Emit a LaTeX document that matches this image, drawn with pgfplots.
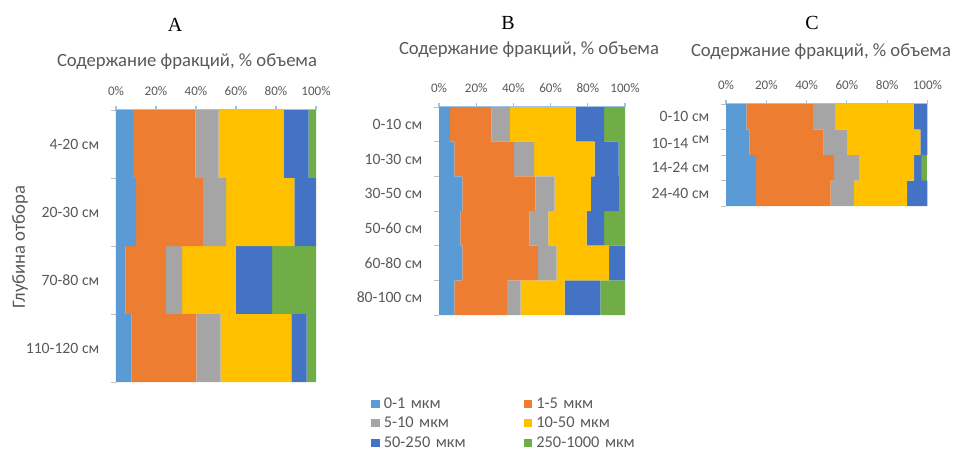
\documentclass[border=0pt]{standalone}
\usepackage{pgfplots}
\pgfplotsset{compat=1.18}
\usepackage{pgfplotstable}
\usepackage{fontspec}
\setmainfont{Carlito}
\newfontfamily\letterfont{Liberation Serif}

\definecolor{f1}{HTML}{5B9BD5}
\definecolor{f2}{HTML}{ED7D31}
\definecolor{f3}{HTML}{A5A5A5}
\definecolor{f4}{HTML}{FFC000}
\definecolor{f5}{HTML}{4472C4}
\definecolor{f6}{HTML}{70AD47}
\definecolor{txt}{HTML}{595959}
\definecolor{axblue}{HTML}{9DC3E6}
\definecolor{tickgray}{HTML}{BFBFBF}

% fraction content, % of volume; y = row position (top row has the largest y)
\pgfplotstableread{
y  c1   c2   c3   c4   c5   c6
3  8.6  31.1 11.6 32.6 12.4 3.7
2  10.0 33.4 11.7 34.1 10.8 0
1  4.7  20.2 8.2  26.7 18.3 21.9
0  7.8  32.4 12.1 35.4 7.6  4.7
}\tabA
\pgfplotstableread{
y  c1   c2   c3   c4   c5   c6
5  5.8  22.4 9.9  35.5 15.2 11.2
4  8.3  32.0 10.8 32.5 13.0 3.4
3  12.6 39.2 10.3 19.6 15.4 2.9
2  11.5 37.1 10.2 20.5 9.5  11.2
1  12.6 40.5 10.2 28.1 8.6  0
0  8.3  28.2 7.4  23.7 19.1 13.3
}\tabB
\pgfplotstableread{
y  c1   c2   c3   c4   c5   c6
3  10.1 33.0 10.9 39.1 6.9  0
2  11.7 36.7 11.6 36.5 3.5  0
1  14.9 38.7 12.7 27.1 3.6  3.0
0  14.9 37.0 11.6 26.4 10.1 0
}\tabC

\pgfplotsset{
  fracbars/.style={
    xbar stacked, bar width=1, scale only axis,
    xmin=0, xmax=100, xtick={0,20,...,100},
    /pgf/number format/assume math mode=true,
    xticklabel={\pgfmathprintnumber{\tick}\%},
    axis x line*=top, axis y line*=left,
    x axis line style={draw=axblue, line width=0.8pt, -},
    y axis line style={draw=none, -},
    tick align=outside, major tick length=3pt,
    xtick style={draw=axblue, line width=0.8pt},
    ytick style={draw=none},
    xticklabel style={font=\fontsize{9.8}{11}\selectfont, text=txt, yshift=4pt},
    yticklabel style={font=\fontsize{11.8}{14}\selectfont, text=txt, xshift=-6pt},
    extra y tick labels={},
    extra y tick style={ytick style={draw=tickgray, line width=0.6pt}, major tick length=3.75pt},
    clip=false,
  },
}

\begin{document}
\begin{tikzpicture}
\path[use as bounding box] (0,0) rectangle (714.75pt,-337.5pt);

% panel A
\begin{axis}[fracbars, at={(87pt,-82.5pt)}, anchor=north west,
  width=150pt, height=204pt, ymin=-0.5, ymax=3.5,
  ytick={0,1,2,3}, yticklabels={110-120 см,70-80 см,20-30 см,4-20 см},
  extra y ticks={-0.5,0.5,1.5,2.5,3.5}]
\addplot[fill=f1, draw=none] table[x=c1, y=y] {\tabA};
\addplot[fill=f2, draw=none] table[x=c2, y=y] {\tabA};
\addplot[fill=f3, draw=none] table[x=c3, y=y] {\tabA};
\addplot[fill=f4, draw=none] table[x=c4, y=y] {\tabA};
\addplot[fill=f5, draw=none] table[x=c5, y=y] {\tabA};
\addplot[fill=f6, draw=none] table[x=c6, y=y] {\tabA};
\end{axis}

% panel B (carries the legend)
\begin{axis}[fracbars, at={(329.25pt,-80.25pt)}, anchor=north west,
  width=139.5pt, height=156pt, ymin=-0.5, ymax=5.5,
  ytick={0,...,5}, yticklabels={80-100 см,60-80 см,50-60 см,30-50 см,10-30 см,0-10 см},
  extra y ticks={-0.5,0.5,...,5.5},
  legend columns=2,
  legend image code/.code={\fill[#1] (0pt,-3.1pt) rectangle (6.4pt,3.1pt);},
  legend style={at={(-0.3656,-0.39)}, anchor=north west, draw=none, fill=none,
    inner sep=0pt, font=\fontsize{12.3}{13}\selectfont, text=txt,
    nodes={text width=102pt, align=left, inner xsep=3pt, inner ysep=1pt,
      text height=8pt, text depth=1pt},
    row sep=3.6pt}]
\addplot[fill=f1, draw=none] table[x=c1, y=y] {\tabB};
\addplot[fill=f2, draw=none] table[x=c2, y=y] {\tabB};
\addplot[fill=f3, draw=none] table[x=c3, y=y] {\tabB};
\addplot[fill=f4, draw=none] table[x=c4, y=y] {\tabB};
\addplot[fill=f5, draw=none] table[x=c5, y=y] {\tabB};
\addplot[fill=f6, draw=none] table[x=c6, y=y] {\tabB};
\legend{0-1 мкм,1-5 мкм,5-10 мкм,10-50 мкм,50-250 мкм,250-1000 мкм}
\end{axis}

% panel C
\begin{axis}[fracbars, at={(544.5pt,-78pt)}, anchor=north west,
  width=151.1pt, height=76.5pt, ymin=-0.5, ymax=3.5,
  ytick={0,1,2,3}, yticklabels={24-40 см,14-24 см,{10-14 \raisebox{0.55ex}{см}},0-10 см},
  extra y ticks={-0.5,0.5,1.5,2.5,3.5}]
\addplot[fill=f1, draw=none] table[x=c1, y=y] {\tabC};
\addplot[fill=f2, draw=none] table[x=c2, y=y] {\tabC};
\addplot[fill=f3, draw=none] table[x=c3, y=y] {\tabC};
\addplot[fill=f4, draw=none] table[x=c4, y=y] {\tabC};
\addplot[fill=f5, draw=none] table[x=c5, y=y] {\tabC};
\addplot[fill=f6, draw=none] table[x=c6, y=y] {\tabC};
\end{axis}

% panel letters, axis titles and depth label
\begin{scope}[every node/.style={inner sep=0pt}]
\node[font=\letterfont\fontsize{15}{15}\selectfont] at (131.25pt,-18.75pt) {A};
\node[font=\letterfont\fontsize{15}{15}\selectfont] at (381pt,-17.25pt) {B};
\node[font=\letterfont\fontsize{15}{15}\selectfont] at (609pt,-17.25pt) {C};
\node[font=\fontsize{14}{16}\selectfont, text=txt] at (140.25pt,-46.5pt) {Содержание фракций, \% объема};
\node[font=\fontsize{14}{16}\selectfont, text=txt] at (396.75pt,-37.5pt) {Содержание фракций, \% объема};
\node[font=\fontsize{14}{16}\selectfont, text=txt] at (615.75pt,-39pt) {Содержание фракций, \% объема};
\node[font=\fontsize{14}{16}\selectfont, text=txt, rotate=90] at (15pt,-185.25pt) {Глубина отбора};
\end{scope}
\end{tikzpicture}
\end{document}
